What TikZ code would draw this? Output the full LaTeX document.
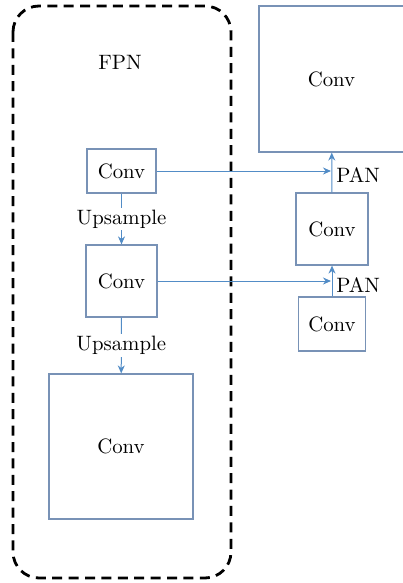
\documentclass[tikz,border=0pt]{standalone}
\usetikzlibrary{arrows.meta,calc}
\definecolor{boxblue}{RGB}{120,146,182}
\definecolor{linkblue}{RGB}{82,140,198}
\tikzstyle{convbox}=[draw=boxblue,line width=0.6pt,inner sep=0pt]
\tikzstyle{link}=[draw=linkblue,line width=0.5pt,-{Stealth[length=4pt,width=3.5pt]}]
\tikzstyle{fpnframe}=[line width=1.4pt,dash pattern=on 5pt off 3.2pt,rounded corners=13pt]
\newcommand{\convnode}[4]{
\node[convbox,minimum width=#3,minimum height=#4] (#1) at #2 {Conv};
}

\begin{document}
\begin{tikzpicture}[x=0.5pt,y=-0.5pt,font=\fontsize{10.4}{12}\selectfont]
	\useasboundingbox (0,0) rectangle (402,583);
	% FPN branch
	\draw[fpnframe] (13,6) rectangle (231,578);
	\node (fpn) at (120,62) {FPN};
	\convnode{c1}{(121.5,171)}{34.5pt}{22pt}
	\convnode{c2}{(121.5,281)}{35.5pt}{36pt}
	\convnode{c3}{(121,446.5)}{72pt}{72.5pt}
	\draw[link] (c1) -- (c2) node[midway,fill=white,inner sep=1pt] {Upsample};
	\draw[link] (c2) -- (c3) node[midway,fill=white,inner sep=1pt] {Upsample};
	% PAN branch
	\convnode{p3}{(331.5,79)}{72.5pt}{73pt}
	\convnode{p2}{(332,229)}{36pt}{36pt}
	\convnode{p1}{(332,324)}{33.5pt}{27pt}
	\draw[link] (p1) -- (p2);
	\draw[link] (p2) -- (p3);
	\coordinate (j2) at (c2.east -| p2.south);
	\coordinate (j1) at (c1.east -| p2.north);
	\draw[link] (c1.east) -- ($(j1)+(-1,0)$);
	\draw[link] (c2.east) -- ($(j2)+(-1,0)$);
	\node[anchor=west,yshift=-2pt,inner sep=2pt] (pan1) at (j1) {PAN};
	\node[anchor=west,yshift=-2pt,inner sep=2pt] (pan2) at (j2) {PAN};
\end{tikzpicture}
\end{document}
